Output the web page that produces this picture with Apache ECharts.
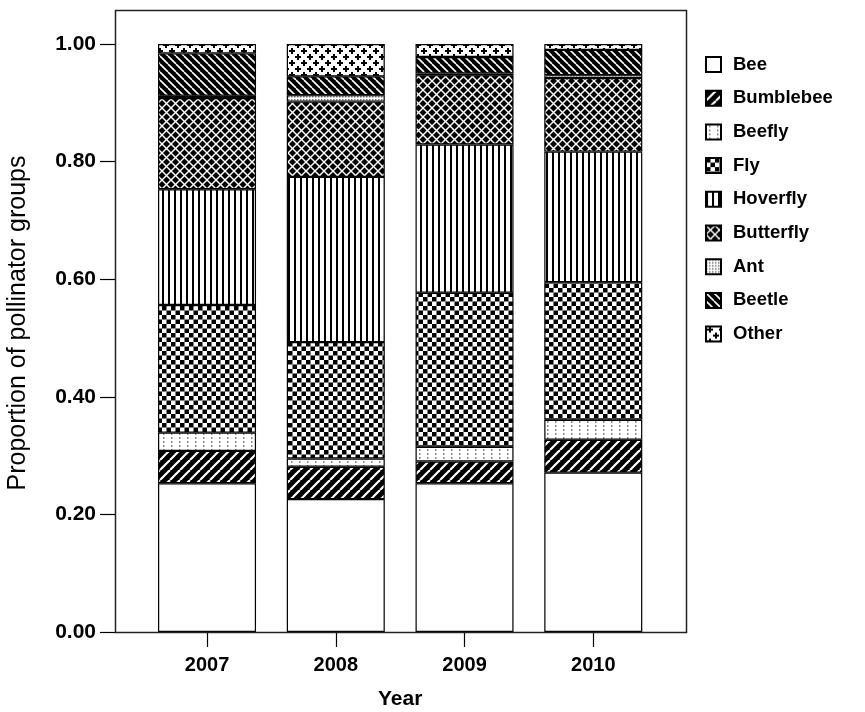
<!DOCTYPE html>
<html>
<head>
<meta charset="utf-8">
<script src="https://cdn.jsdelivr.net/npm/echarts@6/dist/echarts.min.js"></script>
<style>
  html, body { margin: 0; padding: 0; background: #fff; }
  #main { width: 865px; height: 712px; }
</style>
</head>
<body>
<div id="main"></div>
<script>
// data (proportions per year, bottom to top)
var years = ['2007', '2008', '2009', '2010'];
var groups = ['Bee', 'Bumblebee', 'Beefly', 'Fly', 'Hoverfly', 'Butterfly', 'Ant', 'Beetle', 'Other'];
var bee       = [0.253, 0.226, 0.253, 0.271];
var bumblebee = [0.055, 0.055, 0.037, 0.056];
var beefly    = [0.031, 0.014, 0.025, 0.034];
var fly       = [0.217, 0.198, 0.262, 0.234];
var hoverfly  = [0.197, 0.281, 0.252, 0.222];
var butterfly = [0.155, 0.128, 0.118, 0.125];
var ant       = [0.004, 0.011, 0.003, 0.005];
var beetle    = [0.072, 0.032, 0.028, 0.043];
var other     = [0.016, 0.055, 0.022, 0.010];
var values = [bee, bumblebee, beefly, fly, hoverfly, butterfly, ant, beetle, other];

// small canvas tiles for the black & white fills
function tile(w, h, draw) {
  var c = document.createElement('canvas');
  c.width = w; c.height = h;
  var g = c.getContext('2d');
  g.fillStyle = '#fff';
  g.fillRect(0, 0, w, h);
  draw(g, w, h);
  return { image: c, repeat: 'repeat' };
}

var patterns = [
  // Bee - plain white
  '#ffffff',
  // Bumblebee - black with thin white "/" lines
  tile(10, 10, function (g, w, h) {
    g.fillStyle = '#000'; g.fillRect(0, 0, w, h);
    g.strokeStyle = '#fff'; g.lineWidth = 2.2;
    for (var k = -1; k <= 1; k++) {
      g.beginPath(); g.moveTo(k * w, h); g.lineTo(k * w + w, 0); g.stroke();
    }
  }),
  // Beefly - sparse grey dots in columns
  tile(8, 4, function (g) {
    g.fillStyle = '#8a8a8a'; g.fillRect(3, 1, 1.5, 2);
  }),
  // Fly - checkerboard
  tile(9, 9, function (g) {
    g.fillStyle = '#000';
    g.fillRect(0, 0, 4.5, 4.5);
    g.fillRect(4.5, 4.5, 4.5, 4.5);
  }),
  // Hoverfly - vertical lines
  tile(6, 6, function (g) {
    g.fillStyle = '#000'; g.fillRect(0, 0, 2, 6);
  }),
  // Butterfly - black with white diagonal lattice
  tile(9, 9, function (g, w, h) {
    g.fillStyle = '#000'; g.fillRect(0, 0, w, h);
    g.strokeStyle = '#fff'; g.lineWidth = 1.4;
    for (var k = -1; k <= 1; k++) {
      g.beginPath(); g.moveTo(k * w, h); g.lineTo(k * w + w, 0); g.stroke();
      g.beginPath(); g.moveTo(k * w, 0); g.lineTo(k * w + w, h); g.stroke();
    }
  }),
  // Ant - fine grey stipple
  tile(3, 3, function (g) {
    g.fillStyle = '#777'; g.fillRect(0, 0, 1.5, 1.5);
  }),
  // Beetle - black with thin white "\" lines
  tile(8, 8, function (g, w, h) {
    g.fillStyle = '#000'; g.fillRect(0, 0, w, h);
    g.strokeStyle = '#fff'; g.lineWidth = 1.6;
    for (var k = -1; k <= 1; k++) {
      g.beginPath(); g.moveTo(k * w, 0); g.lineTo(k * w + w, h); g.stroke();
    }
  }),
  // Other - staggered plus signs
  tile(12, 12, function (g) {
    g.fillStyle = '#000';
    g.fillRect(1, 2, 6, 2); g.fillRect(3, 0, 2, 6);
    g.fillRect(7, 8, 6, 2); g.fillRect(9, 6, 2, 6);
    g.fillRect(-5, 8, 6, 2);
  })
];

var font = 'Liberation Sans, Arial, sans-serif';

var series = groups.map(function (name, i) {
  return {
    name: name,
    type: 'bar',
    stack: 'total',
    barWidth: 98,
    data: values[i],
    itemStyle: { color: patterns[i], borderColor: '#000', borderWidth: 1.2 },
    emphasis: { disabled: true }
  };
});

var chart = echarts.init(document.getElementById('main'));

chart.setOption({
  animation: false,
  backgroundColor: '#fff',
  textStyle: { fontFamily: font },
  grid: { left: 142.65, right: 207.35, top: 44, bottom: 80, outerBoundsMode: 'none', containLabel: false },
  xAxis: {
    type: 'category',
    data: years,
    axisLine: { show: false },
    axisTick: { show: true, alignWithLabel: true, length: 15, lineStyle: { color: '#000', width: 1.2 } },
    axisLabel: { color: '#000', fontSize: 20, fontWeight: 'bold', margin: 23, fontFamily: font },
    name: 'Year',
    nameLocation: 'middle',
    nameGap: 57,
    nameTextStyle: { color: '#000', fontSize: 21, fontWeight: 'bold', fontFamily: font }
  },
  yAxis: {
    type: 'value',
    min: 0,
    max: 1,
    interval: 0.2,
    offset: 27.65,
    axisLine: { show: false },
    axisTick: { show: true, length: 15, lineStyle: { color: '#000', width: 1.2 } },
    splitLine: { show: false },
    axisLabel: {
      color: '#000', fontSize: 21, fontWeight: 'bold', margin: 19, fontFamily: font,
      formatter: function (v) { return v.toFixed(2); }
    },
    name: 'Proportion of pollinator groups',
    nameLocation: 'middle',
    nameGap: 84,
    nameTextStyle: { color: '#000', fontSize: 25, fontFamily: font, padding: [0, 0, 0, 30] }
  },
  legend: {
    orient: 'vertical',
    left: 700,
    top: 50,
    icon: 'rect',
    itemWidth: 15,
    itemHeight: 15,
    itemGap: 14.7,
    selectedMode: false,
    textStyle: { color: '#000', fontSize: 18.5, fontWeight: 'bold', fontFamily: font, padding: [0, 0, 0, 7] },
    data: groups
  },
  graphic: [{
    type: 'rect',
    z: 100,
    silent: true,
    shape: { x: 115.5, y: 10.5, width: 571, height: 622 },
    style: { fill: 'none', stroke: '#222', lineWidth: 1.5 }
  }],
  series: series
});
</script>
</body>
</html>
